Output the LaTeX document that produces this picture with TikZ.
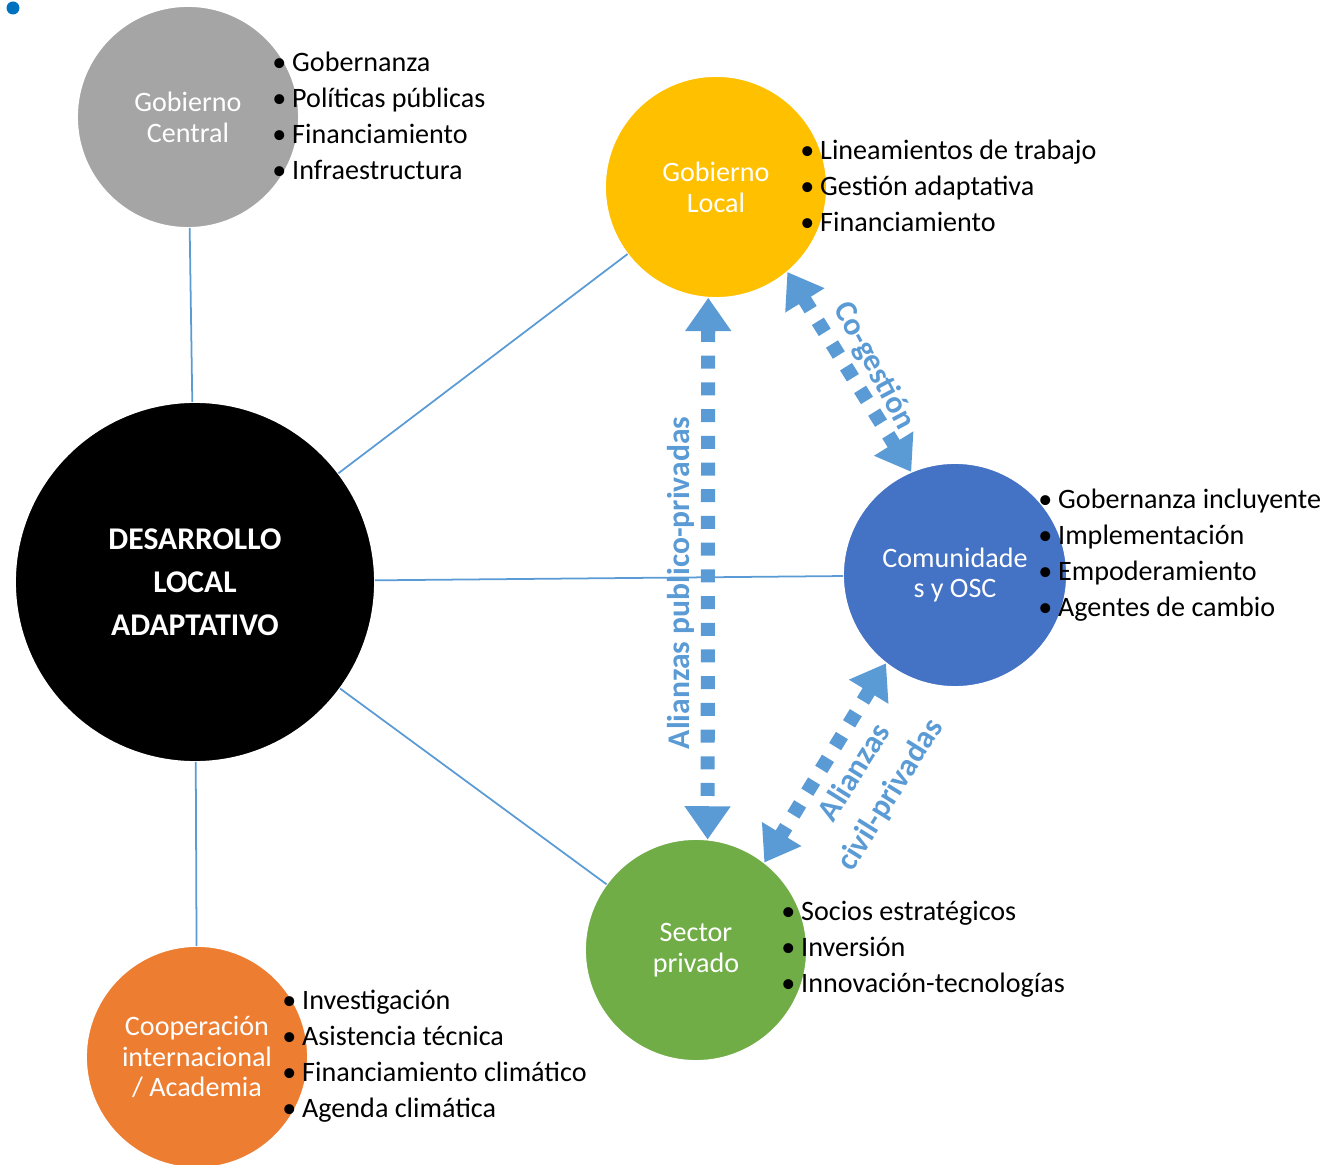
\documentclass[tikz,border=0pt]{standalone}
\usepackage{fontspec}
\setmainfont{Carlito}
\usetikzlibrary{arrows.meta}
\definecolor{linkblue}{HTML}{5B9BD5}
\definecolor{dotblue}{HTML}{0070C0}
\newcommand{\itm}[1]{\makebox[11.3pt][l]{\textbullet}#1}
\tikzset{
  actor/.style={circle, fill=#1, draw=white, line width=1pt, inner sep=0pt, outer sep=0pt,
    minimum size=4.44cm, text=white, align=center, font=\fontsize{16}{17.6}\selectfont},
  tasks/.style={anchor=west, align=left, inner sep=0pt, font=\fontsize{16}{20.4}\selectfont},
  link/.style={draw=linkblue, line width=1pt},
  alliance/.style={linkblue, line width=8pt, dash pattern=on 7.4pt off 7.8pt,
    {Triangle[width=25pt,length=19pt]}-{Triangle[width=25pt,length=19pt]}},
  tag/.style={text=linkblue, font=\bfseries\fontsize{18}{24}\selectfont, align=center, inner sep=0pt}
}
\begin{document}
\begin{tikzpicture}[x=0.02cm, y=-0.02cm]
\useasboundingbox (0,0) rectangle (1330,1165);
\fill[dotblue] (13,8) circle (0.13cm);
% actors
\definecolor{col}{HTML}{A5A5A5}
\node[actor=col] (gc) at (188,117) {Gobierno\\Central};
\definecolor{col}{HTML}{FFC000}
\node[actor=col] (gl) at (716,187) {Gobierno\\Local};
\definecolor{col}{HTML}{4472C4}
\node[actor=col, minimum size=4.48cm] (com) at (955,575) {Comunidade\\s y OSC};
\definecolor{col}{HTML}{70AD47}
\node[actor=col] (sp) at (696,950) {Sector\\privado};
\definecolor{col}{HTML}{ED7D31}
\node[actor=col] (coop) at (197,1057) {Cooperación\\internacional\\/ Academia};
\node[actor=black, minimum size=7.2cm, font=\bfseries\fontsize{18}{24.4}\selectfont] (dl) at (195,582) {DESARROLLO\\LOCAL\\ADAPTATIVO};
% roles
\node[tasks] (gcTasks) at (272,116) {\itm{Gobernanza}\\\itm{Políticas públicas}\\\itm{Financiamiento}\\\itm{Infraestructura}};
\node[tasks] (glTasks) at (800,186) {\itm{Lineamientos de trabajo}\\\itm{Gestión adaptativa}\\\itm{Financiamiento}};
\node[tasks] (comTasks) at (1038,555) {\itm{Gobernanza incluyente}\\\itm{Implementación}\\\itm{Empoderamiento}\\\itm{Agentes de cambio}};
\node[tasks] (spTasks) at (781,949) {\itm{Socios estratégicos}\\\itm{Inversión}\\\itm{Innovación-tecnologías}};
\node[tasks] (coopTasks) at (282,1056) {\itm{Investigación}\\\itm{Asistencia técnica}\\\itm{Financiamiento climático}\\\itm{Agenda climática}};
% alliances
\node[tag, rotate=90] (ppTag) at (681,583) {Alianzas publico-privadas};
\node[tag, rotate=-62] (cgTag) at (874,366) {Co-gestión};
\node[tag, rotate=58] (cpTag) at (873,784) {Alianzas\\civil-privadas};
\draw[alliance] (gl.-94) -- (sp.84);
\draw[alliance] (gl.-50) -- (com.113);
\draw[alliance] (com.-128) -- (sp.52);
% links
\draw[link] (dl) -- (gc);
\draw[link] (dl) -- (gl);
\draw[link] (dl) -- (com);
\draw[link] (dl) -- (sp);
\draw[link] (dl) -- (coop);
\end{tikzpicture}
\end{document}
